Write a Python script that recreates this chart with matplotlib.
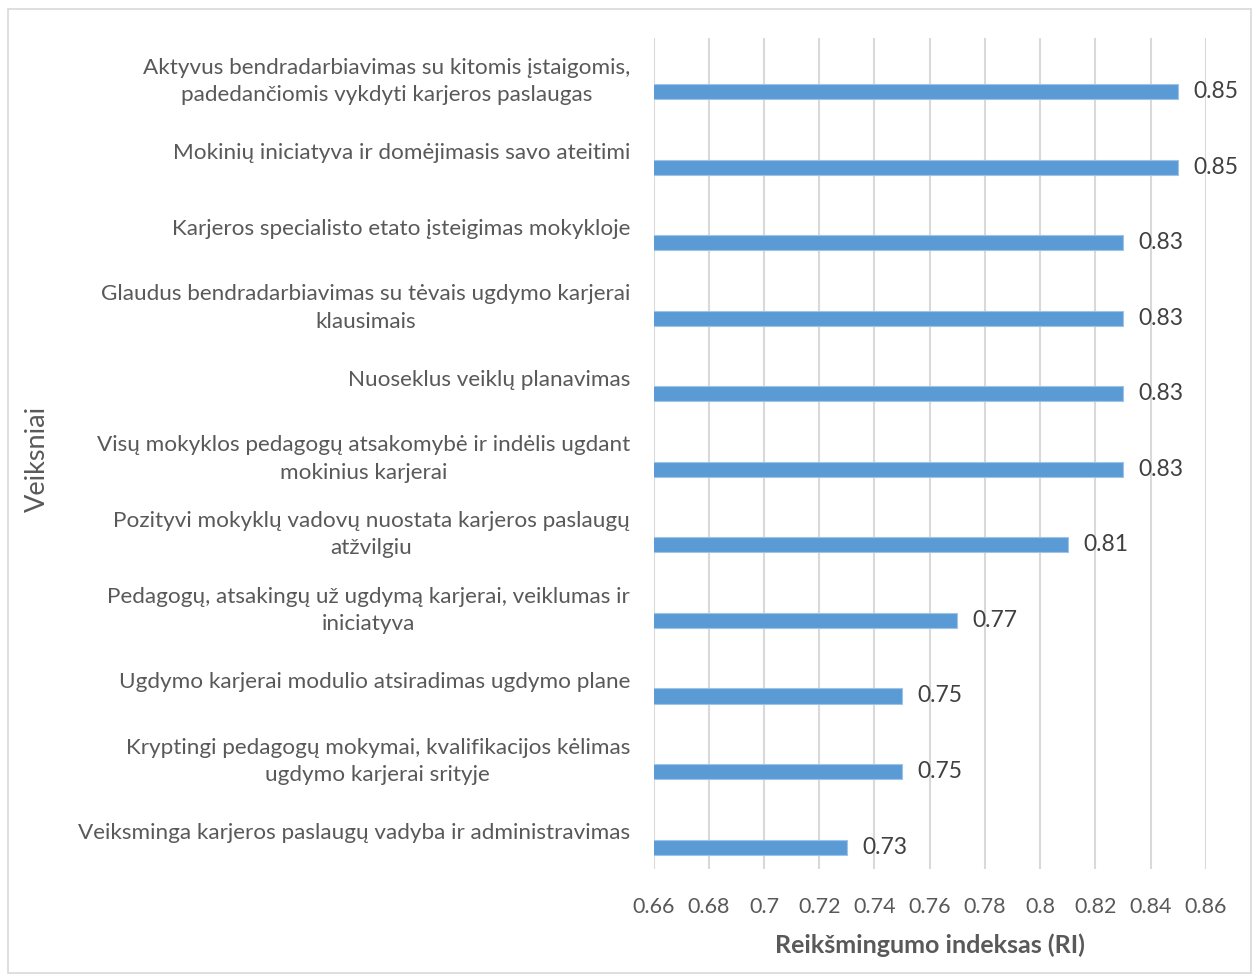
import numpy as np
import matplotlib
matplotlib.use("Agg")
from matplotlib import pyplot as plt
from matplotlib.patches import Rectangle

factors = [
    "Aktyvus bendradarbiavimas su kitomis įstaigomis,\npadedančiomis vykdyti karjeros paslaugas",
    "Mokinių iniciatyva ir domėjimasis savo ateitimi",
    "Karjeros specialisto etato įsteigimas mokykloje",
    "Glaudus bendradarbiavimas su tėvais ugdymo karjerai\nklausimais",
    "Nuoseklus veiklų planavimas",
    "Visų mokyklos pedagogų atsakomybė ir indėlis ugdant\nmokinius karjerai",
    "Pozityvi mokyklų vadovų nuostata karjeros paslaugų\natžvilgiu",
    "Pedagogų, atsakingų už ugdymą karjerai, veiklumas ir\niniciatyva",
    "Ugdymo karjerai modulio atsiradimas ugdymo plane",
    "Kryptingi pedagogų mokymai, kvalifikacijos kėlimas\nugdymo karjerai srityje",
    "Veiksminga karjeros paslaugų vadyba ir administravimas",
]
ri = [0.85, 0.85, 0.83, 0.83, 0.83, 0.83, 0.81, 0.77, 0.75, 0.75, 0.73]
xticks = [0.66, 0.68, 0.70, 0.72, 0.74, 0.76, 0.78, 0.80, 0.82, 0.84, 0.86]
xtick_labels = ["0.66", "0.68", "0.7", "0.72", "0.74", "0.76", "0.78", "0.8", "0.82", "0.84", "0.86"]

plt.rcParams['font.family'] = ['Lato', 'DejaVu Sans']
grey = '#595959'

fig = plt.figure(figsize=(12.58, 9.8), dpi=100)
fig.patches.append(Rectangle((0.0064, 0.0071), 0.988, 0.9837, transform=fig.transFigure,
                             fill=False, edgecolor='#D9D9D9', lw=1.2))
ax = fig.add_axes([0.5195, 0.1133, 0.439, 0.8479])

y = np.arange(len(factors))
# bars sit a bit below the category centre, like the Excel original
ax.barh(y + 0.21, ri, height=0.2, color='#5B9BD5', edgecolor='#9DC3E6', lw=0.8, zorder=3)
for yy, v in zip(y, ri):
    ax.text(v + 0.0055, yy + 0.21, f"{v:.2f}", va='center', ha='left', fontsize=16.5, color='#404040')

ax.set_xlim(0.66, 0.86)
ax.set_ylim(len(factors) - 0.5, -0.5)
ax.set_xticks(xticks)
ax.set_xticklabels(xtick_labels, fontsize=15.5, color=grey)
ax.set_yticks(y)
ax.set_yticklabels(factors, fontsize=16.2, color=grey, multialignment='center', linespacing=1.45)
ax.tick_params(axis='both', length=0)
ax.tick_params(axis='x', pad=20)
ax.tick_params(axis='y', pad=17)
ax.grid(axis='x', color='#D9D9D9', lw=1.5, zorder=0)
for s in ax.spines.values():
    s.set_visible(False)

ax.set_xlabel("Reikšmingumo indeksas (RI)", fontsize=18, fontweight='bold', color=grey, labelpad=12)
fig.text(0.030, 0.532, "Veiksniai", rotation=90, fontsize=19.5, color=grey, ha='center', va='center')

fig.savefig("out.png", dpi=100)
